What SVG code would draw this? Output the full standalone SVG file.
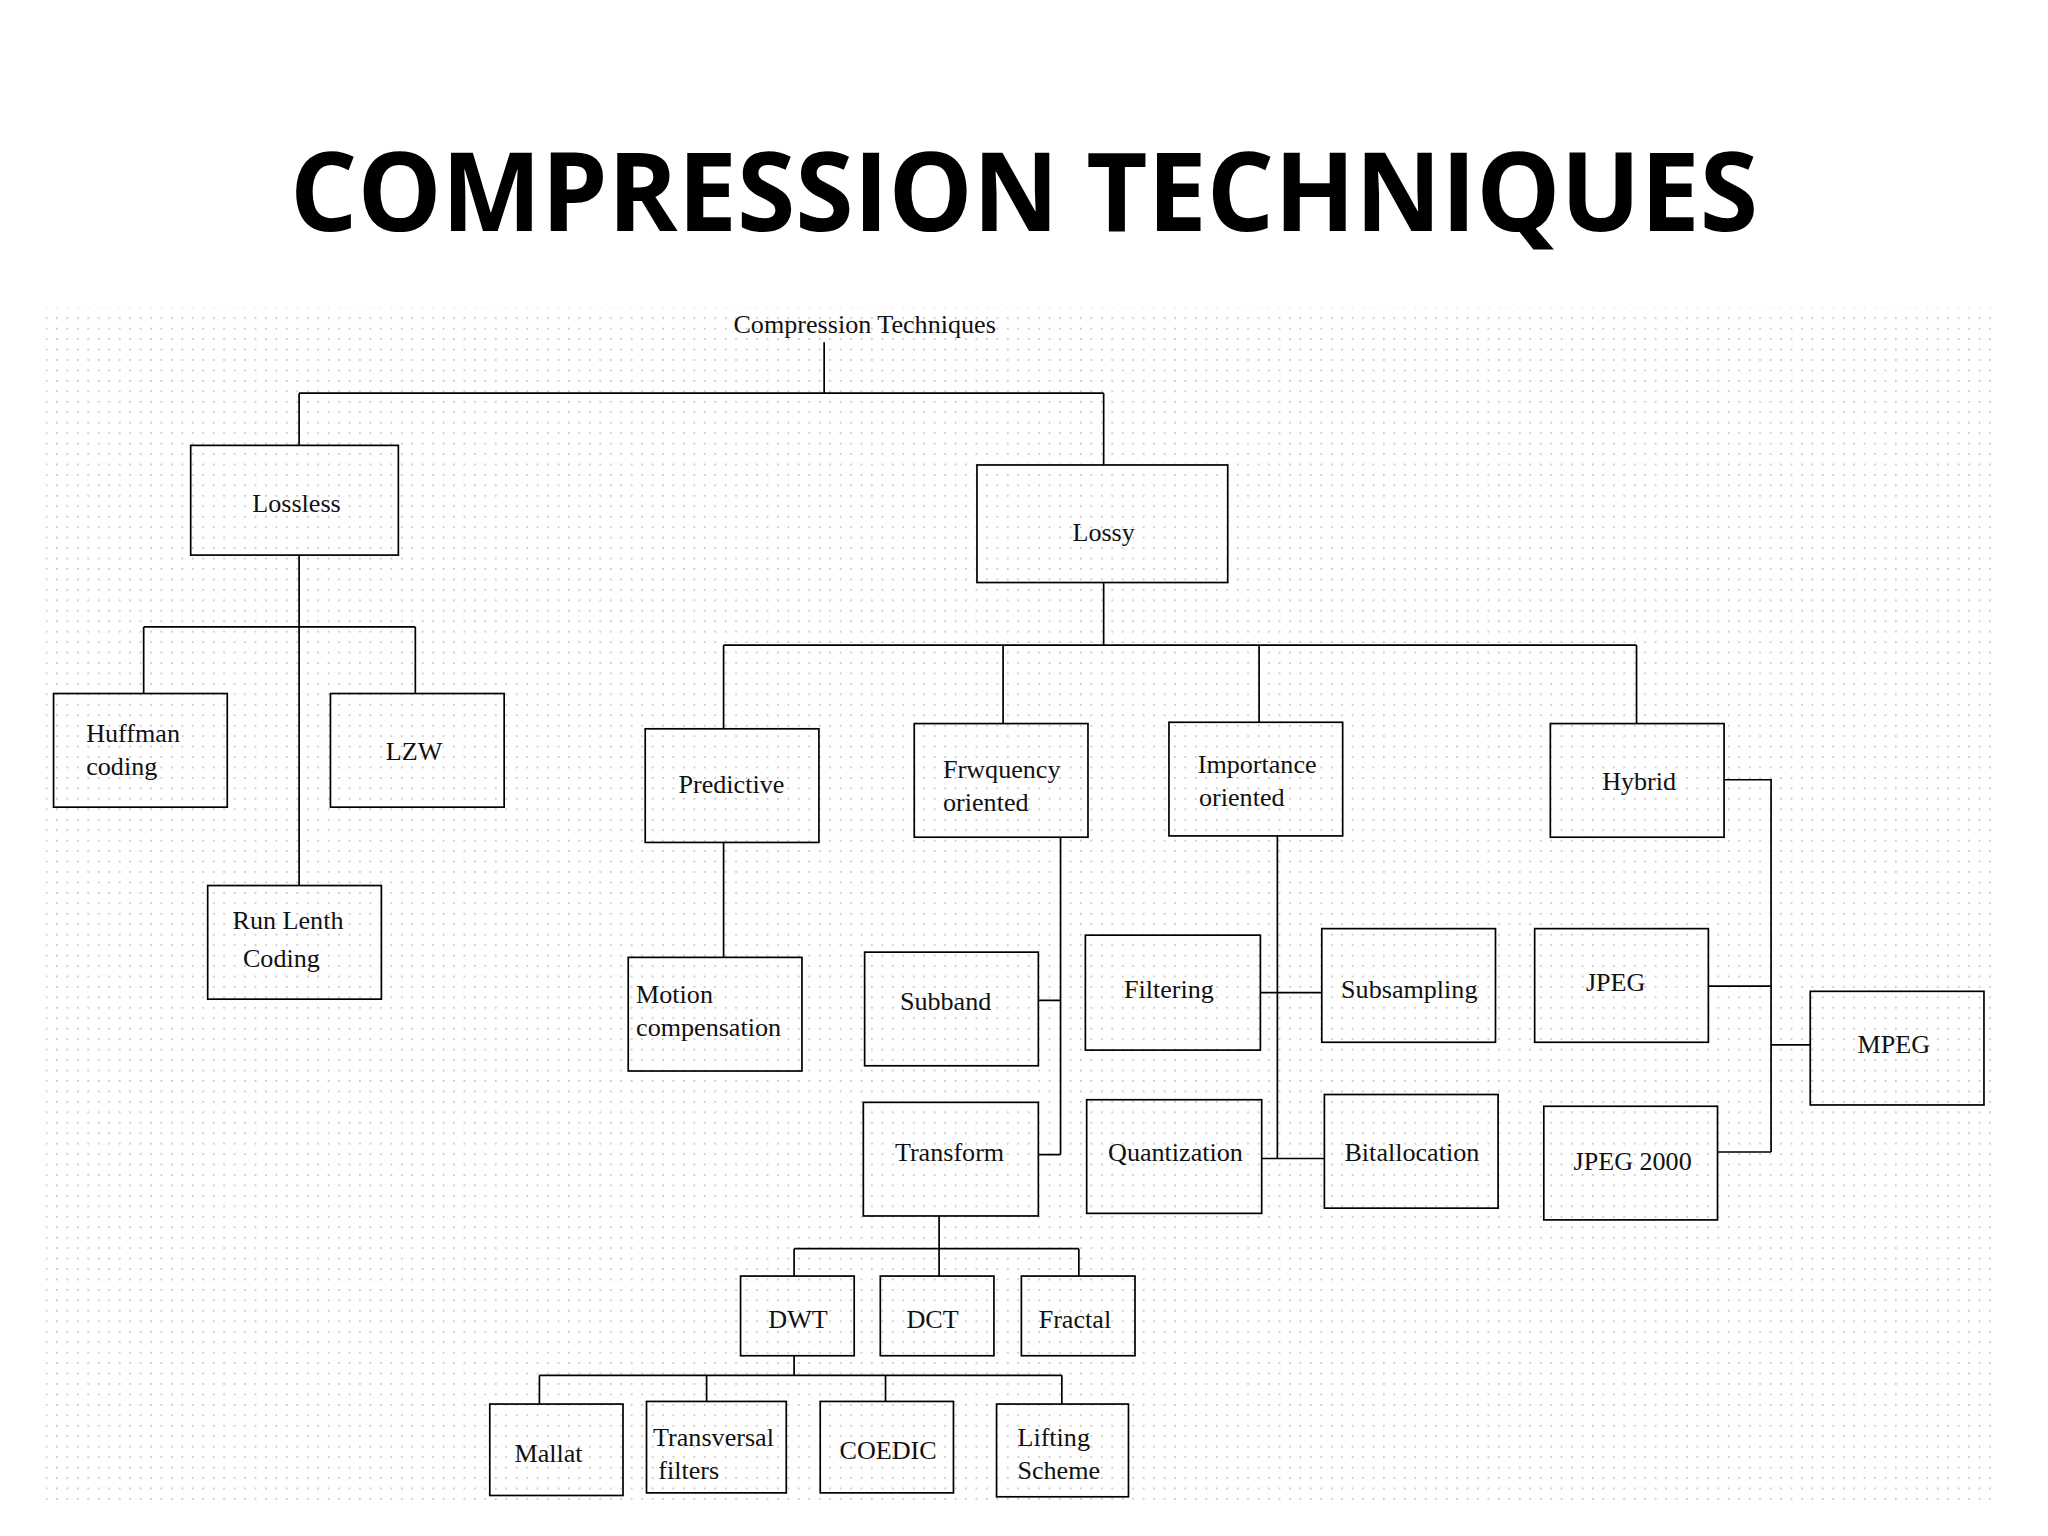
<svg xmlns="http://www.w3.org/2000/svg" width="2048" height="1536" viewBox="0 0 2048 1536">
<style>
.b{fill:none;stroke:#000;stroke-width:1.3}
.t{font-family:"Liberation Serif",serif;font-size:20px;fill:#111}
.c{text-anchor:middle}
#connectors path{fill:none;stroke:#000;stroke-width:1.3}
</style>
<defs>
<pattern id="dots" width="8" height="8" patternUnits="userSpaceOnUse"><rect x="3" y="3" width="1.2" height="1.2" fill="#b8b8b8"/></pattern>
</defs>
<rect width="2048" height="1536" fill="#fff"/>
<g transform="scale(1.3061)">
<rect x="35" y="236" width="1495" height="914" fill="url(#dots)"/>
<text x="784" y="177" text-anchor="middle" font-family="'Open Sans',sans-serif" font-weight="bold" font-size="84" textLength="1124" lengthAdjust="spacingAndGlyphs">COMPRESSION TECHNIQUES</text>
<text x="662" y="255" class="t c" font-size="30">Compression Techniques</text>
<g id="connectors">
<path d="M631,262V301M229,301H845M229,301V341M845,301V356"/>
<path d="M229,425V678M110,480H318M110,480V531M318,480V531"/>
<path d="M845,446V494M554,494H1253M554,494V558M768,494V554M964,494V553M1253,494V554"/>
<path d="M554,645V733"/>
<path d="M812,641V884M795,766H812M795,884H812"/>
<path d="M978,640V887M965,760H1012M966,887H1014"/>
<path d="M1320,597H1356V882M1308,755H1356M1356,800H1386M1315,882H1356"/>
<path d="M719,931V956M608,956H826M608,956V977M719,956V977M826,956V977"/>
<path d="M608,1038V1053M413,1053H813M413,1053V1075M541,1053V1073M678,1053V1073M813,1053V1075"/>
</g>
<g id="lossless"><rect class="b" x="146" y="341" width="159" height="84"/><text x="227" y="392" class="t c" font-size="30">Lossless</text></g>
<g id="lossy"><rect class="b" x="748" y="356" width="192" height="90"/><text x="845" y="414" class="t c" font-size="34">Lossy</text></g>
<g id="huffman"><rect class="b" x="41" y="531" width="133" height="87"/><text x="66" y="568" class="t">Huffman</text><text x="66" y="593" class="t">coding</text></g>
<g id="lzw"><rect class="b" x="253" y="531" width="133" height="87"/><text x="317" y="582" class="t c">LZW</text></g>
<g id="runlenth"><rect class="b" x="159" y="678" width="133" height="87"/><text x="178" y="711" class="t">Run Lenth</text><text x="186" y="740" class="t">Coding</text></g>
<g id="predictive"><rect class="b" x="494" y="558" width="133" height="87"/><text x="560" y="607" class="t c">Predictive</text></g>
<g id="frequency"><rect class="b" x="700" y="554" width="133" height="87"/><text x="722" y="596" class="t">Frwquency</text><text x="722" y="621" class="t">oriented</text></g>
<g id="importance"><rect class="b" x="895" y="553" width="133" height="87"/><text x="917" y="592" class="t">Importance</text><text x="918" y="617" class="t">oriented</text></g>
<g id="hybrid"><rect class="b" x="1187" y="554" width="133" height="87"/><text x="1255" y="605" class="t c">Hybrid</text></g>
<g id="motion"><rect class="b" x="481" y="733" width="133" height="87"/><text x="487" y="768" class="t">Motion</text><text x="487" y="793" class="t">compensation</text></g>
<g id="subband"><rect class="b" x="662" y="729" width="133" height="87"/><text x="724" y="773" class="t c">Subband</text></g>
<g id="filtering"><rect class="b" x="831" y="716" width="134" height="88"/><text x="895" y="764" class="t c">Filtering</text></g>
<g id="subsampling"><rect class="b" x="1012" y="711" width="133" height="87"/><text x="1079" y="764" class="t c">Subsampling</text></g>
<g id="jpeg"><rect class="b" x="1175" y="711" width="133" height="87"/><text x="1237" y="759" class="t c">JPEG</text></g>
<g id="mpeg"><rect class="b" x="1386" y="759" width="133" height="87"/><text x="1450" y="806" class="t c">MPEG</text></g>
<g id="transform"><rect class="b" x="661" y="844" width="134" height="87"/><text x="727" y="889" class="t c">Transform</text></g>
<g id="quantization"><rect class="b" x="832" y="842" width="134" height="87"/><text x="900" y="889" class="t c">Quantization</text></g>
<g id="bitallocation"><rect class="b" x="1014" y="838" width="133" height="87"/><text x="1081" y="889" class="t c">Bitallocation</text></g>
<g id="jpeg2000"><rect class="b" x="1182" y="847" width="133" height="87"/><text x="1250" y="896" class="t c">JPEG 2000</text></g>
<g id="dwt"><rect class="b" x="567" y="977" width="87" height="61"/><text x="611" y="1017" class="t c">DWT</text></g>
<g id="dct"><rect class="b" x="674" y="977" width="87" height="61"/><text x="714" y="1017" class="t c">DCT</text></g>
<g id="fractal"><rect class="b" x="782" y="977" width="87" height="61"/><text x="823" y="1017" class="t c">Fractal</text></g>
<g id="mallat"><rect class="b" x="375" y="1075" width="102" height="70"/><text x="420" y="1119" class="t c">Mallat</text></g>
<g id="transversal"><rect class="b" x="495" y="1073" width="107" height="70"/><text x="500" y="1107" class="t">Transversal</text><text x="504" y="1132" class="t">filters</text></g>
<g id="coedic"><rect class="b" x="628" y="1073" width="102" height="70"/><text x="680" y="1117" class="t c">COEDIC</text></g>
<g id="lifting"><rect class="b" x="763" y="1075" width="101" height="71"/><text x="779" y="1107" class="t">Lifting</text><text x="779" y="1132" class="t">Scheme</text></g>
</g>
</svg>
